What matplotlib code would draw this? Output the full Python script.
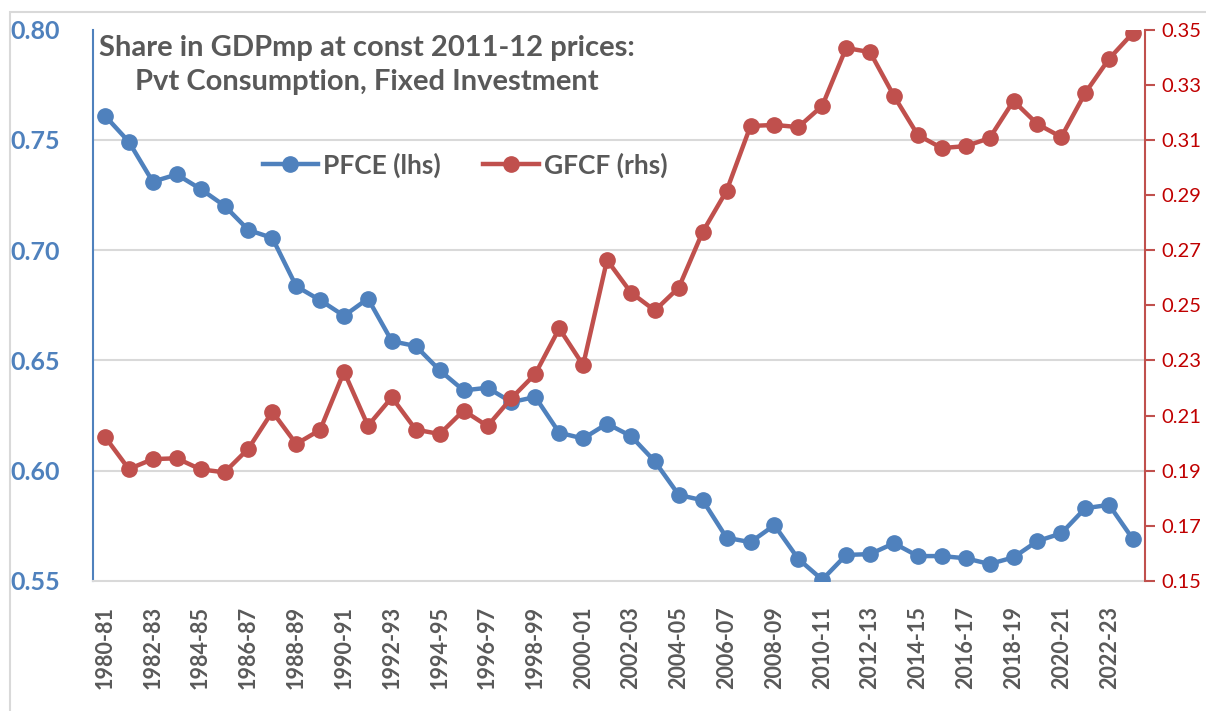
import matplotlib
matplotlib.use("Agg")
import matplotlib.pyplot as plt
from matplotlib.lines import Line2D
from matplotlib.patches import Rectangle

years = [f"{y}-{str(y + 1)[-2:]}" for y in range(1980, 2024)]

pfce = [0.7609, 0.7491, 0.7310, 0.7343, 0.7277, 0.7201, 0.7091, 0.7055,
        0.6836, 0.6773, 0.6702, 0.6780, 0.6587, 0.6565, 0.6455, 0.6364,
        0.6376, 0.6311, 0.6334, 0.6172, 0.6146, 0.6213, 0.6157, 0.6042,
        0.5890, 0.5866, 0.5696, 0.5676, 0.5753, 0.5600, 0.5506, 0.5618,
        0.5622, 0.5671, 0.5613, 0.5613, 0.5603, 0.5577, 0.5607, 0.5681,
        0.5716, 0.5830, 0.5845, 0.5689]

gfcf = [0.2023, 0.1906, 0.1942, 0.1945, 0.1905, 0.1894, 0.1980, 0.2114,
        0.1997, 0.2048, 0.2259, 0.2063, 0.2166, 0.2049, 0.2033, 0.2118,
        0.2062, 0.2163, 0.2251, 0.2416, 0.2283, 0.2664, 0.2546, 0.2481,
        0.2564, 0.2766, 0.2915, 0.3150, 0.3154, 0.3146, 0.3223, 0.3433,
        0.3418, 0.3259, 0.3117, 0.3070, 0.3077, 0.3106, 0.3241, 0.3157,
        0.3110, 0.3270, 0.3394, 0.3488]

left_ticks = [0.55, 0.60, 0.65, 0.70, 0.75, 0.80]
right_ticks = [0.15, 0.17, 0.19, 0.21, 0.23, 0.25, 0.27, 0.29, 0.31, 0.33, 0.35]

title_lines = ["Share in GDPmp at const 2011-12 prices:",
               "Pvt Consumption, Fixed Investment"]

BLUE = "#4F81BD"
RED = "#C0504D"
RED_TXT = "#C00000"
GRAY = "#595959"
GRID = "#D9D9D9"
FONT = ["Lato", "DejaVu Sans"]

plt.rcParams["font.family"] = FONT

W, H = 1206, 711
fig = plt.figure(figsize=(W / 100, H / 100), dpi=100)
fig.patch.set_facecolor("white")

def fx(px):
    return px / W

def fy(py):
    return 1 - py / H

L, R, T, B = 93, 1145, 29.5, 581
ax = fig.add_axes([fx(L), fy(B), fx(R) - fx(L), fy(T) - fy(B)])
ax2 = ax.twinx()

x = list(range(len(years)))
ax.plot(x, pfce, color=BLUE, lw=3.2, marker="o", ms=11, zorder=3)
ax2.plot(x, gfcf, color=RED, lw=3.2, marker="o", ms=11, zorder=3)

ax.set_xlim(-0.5, len(years) - 0.5)
ax.set_ylim(0.55, 0.80)
ax2.set_ylim(0.15, 0.35)

ax.set_yticks(left_ticks)
ax.set_yticklabels([f"{v:.2f}" for v in left_ticks], color=BLUE,
                   fontsize=18, fontweight="bold")
ax.tick_params(axis="y", length=0, pad=24)
for v in left_ticks[1:-1]:
    ax.axhline(v, color=GRID, lw=1.5, zorder=0)

ax2.set_yticks(right_ticks)
ax2.set_yticklabels([f"{v:.2f}" for v in right_ticks], color=RED_TXT,
                    fontsize=14.5)
ax2.tick_params(axis="y", length=7, width=1.5, color=RED, pad=5)

ax.set_xticks(x[::2])
ax.set_xticklabels(years[::2], rotation=90, fontsize=15.5, fontweight="bold",
                   color=GRAY)
ax.tick_params(axis="x", length=0, pad=18)

for a in (ax, ax2):
    a.spines["top"].set_visible(False)
ax.spines["right"].set_visible(False)
ax2.spines["left"].set_visible(False)
ax2.spines["bottom"].set_visible(False)
ax.spines["left"].set_color(BLUE)
ax.spines["left"].set_linewidth(1.5)
ax.spines["bottom"].set_color(GRID)
ax.spines["bottom"].set_linewidth(1.5)
ax2.spines["right"].set_color(RED)
ax2.spines["right"].set_linewidth(1.5)

# title
fig.text(fx(367), fy(48), title_lines[0], ha="center", va="center",
         fontsize=21, fontweight="bold", color=GRAY)
fig.text(fx(367), fy(82), title_lines[1], ha="center", va="center",
         fontsize=21, fontweight="bold", color=GRAY)

# legend
handles = [Line2D([], [], color=BLUE, lw=3.2, marker="o", ms=11),
           Line2D([], [], color=RED, lw=3.2, marker="o", ms=11)]
fig.legend(handles, ["PFCE (lhs)", "GFCF (rhs)"], loc="center",
           bbox_to_anchor=(fx(465), fy(165)), ncol=2, frameon=False,
           prop={"family": FONT, "weight": "bold", "size": 19},
           labelcolor=GRAY, handlelength=2.1, handletextpad=0.2,
           columnspacing=1.6)

# chart area border
fig.patches.append(Rectangle((fx(10), fy(H + 20)), 1.2, fy(12) - fy(H + 20),
                             transform=fig.transFigure, fill=False,
                             edgecolor=GRID, lw=1.5, zorder=-1))

fig.savefig("out.png", dpi=100)
